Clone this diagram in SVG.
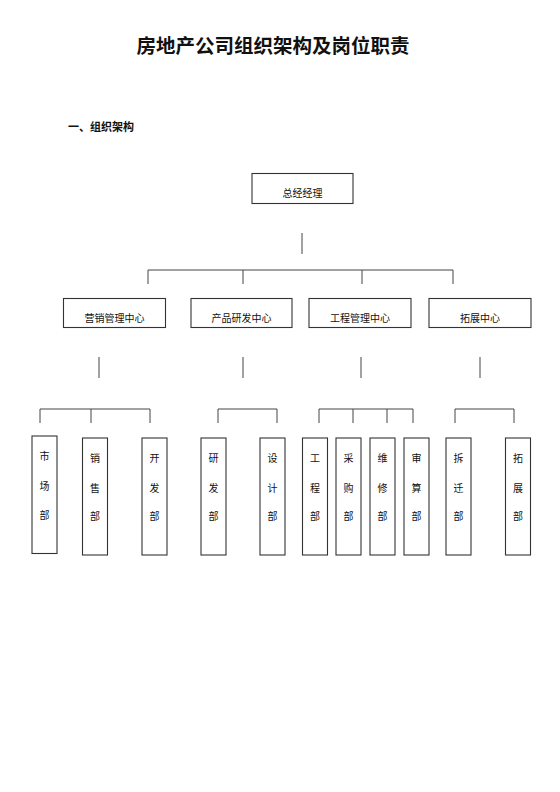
<svg xmlns="http://www.w3.org/2000/svg" width="560" height="792" viewBox="0 0 560 792">
<style>
text{font-family:"Noto Sans CJK SC","Noto Sans",sans-serif;fill:#111;}
.t{font-size:19.5px;font-weight:bold;text-anchor:middle;}
.h{font-size:11px;font-weight:bold;}
.n{font-size:10px;text-anchor:middle;dominant-baseline:central;}
.b{fill:#fff;stroke:#333;stroke-width:1.1;}
.c{fill:none;stroke:#444;stroke-width:1;}
</style>
<rect width="560" height="792" fill="#fff"/>
<text class="t" x="273" y="53">房地产公司组织架构及岗位职责</text>
<text class="h" x="68" y="131">一、组织架构</text>
<g id="connectors">
<path class="c" d="M302 233V254M148 284V270H453V284M243 270V284M362 270V284"/>
<path class="c" d="M99 357V378M243 357V378M361 357V378M480 357V378"/>
<path class="c" d="M40 423V409H150V423M91 409V423"/>
<path class="c" d="M218 423V409H277V423"/>
<path class="c" d="M319 423V409H413V423M353 409V423M387 409V423"/>
<path class="c" d="M455 423V409H514V423"/>
</g>
<g id="gm"><rect class="b" x="252" y="173.5" width="101" height="30"/><text class="n" x="302.5" y="192">总经经理</text></g>
<g id="c1"><rect class="b" x="63.5" y="298.5" width="102" height="29"/><text class="n" x="114.5" y="317.5">营销管理中心</text></g>
<g id="c2"><rect class="b" x="191" y="298.5" width="101" height="29"/><text class="n" x="241.5" y="317.5">产品研发中心</text></g>
<g id="c3"><rect class="b" x="309" y="298.5" width="102" height="29"/><text class="n" x="360" y="317.5">工程管理中心</text></g>
<g id="c4"><rect class="b" x="429" y="298.5" width="102" height="29"/><text class="n" x="480" y="317.5">拓展中心</text></g>
<g id="d1"><rect class="b" x="32" y="436" width="25" height="117.5"/><text class="n" x="44.5" y="455.5">市</text><text class="n" x="44.5" y="485">场</text><text class="n" x="44.5" y="514">部</text></g>
<g id="d2"><rect class="b" x="82.5" y="438" width="25" height="117"/><text class="n" x="95" y="457.5">销</text><text class="n" x="95" y="487">售</text><text class="n" x="95" y="515.5">部</text></g>
<g id="d3"><rect class="b" x="142" y="438" width="25" height="117"/><text class="n" x="154.5" y="457.5">开</text><text class="n" x="154.5" y="487">发</text><text class="n" x="154.5" y="515.5">部</text></g>
<g id="d4"><rect class="b" x="201" y="438" width="25" height="117"/><text class="n" x="213.5" y="457.5">研</text><text class="n" x="213.5" y="487">发</text><text class="n" x="213.5" y="515.5">部</text></g>
<g id="d5"><rect class="b" x="260" y="438" width="25" height="117"/><text class="n" x="272.5" y="457.5">设</text><text class="n" x="272.5" y="487">计</text><text class="n" x="272.5" y="515.5">部</text></g>
<g id="d6"><rect class="b" x="302.5" y="438" width="25" height="117"/><text class="n" x="315" y="457.5">工</text><text class="n" x="315" y="487">程</text><text class="n" x="315" y="515.5">部</text></g>
<g id="d7"><rect class="b" x="336" y="438" width="25" height="117"/><text class="n" x="348.5" y="457.5">采</text><text class="n" x="348.5" y="487">购</text><text class="n" x="348.5" y="515.5">部</text></g>
<g id="d8"><rect class="b" x="370" y="438" width="25" height="117"/><text class="n" x="382.5" y="457.5">维</text><text class="n" x="382.5" y="487">修</text><text class="n" x="382.5" y="515.5">部</text></g>
<g id="d9"><rect class="b" x="404" y="438" width="25" height="117"/><text class="n" x="416.5" y="457.5">审</text><text class="n" x="416.5" y="487">算</text><text class="n" x="416.5" y="515.5">部</text></g>
<g id="d10"><rect class="b" x="446" y="438" width="25" height="117"/><text class="n" x="458.5" y="457.5">拆</text><text class="n" x="458.5" y="487">迁</text><text class="n" x="458.5" y="515.5">部</text></g>
<g id="d11"><rect class="b" x="505.5" y="438" width="25" height="117"/><text class="n" x="518" y="457.5">拓</text><text class="n" x="518" y="487">展</text><text class="n" x="518" y="515.5">部</text></g>
</svg>
